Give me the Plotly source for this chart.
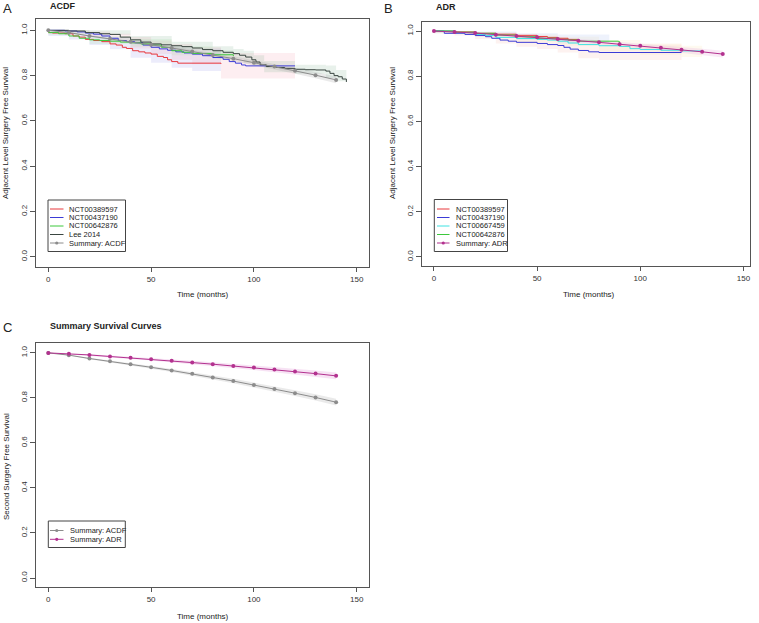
import plotly.graph_objects as go

W, H = 759, 623
FONT = "Liberation Sans, Arial, sans-serif"

# ---------------- Panel A (ACDF) data ----------------
a_red_x = [0, 2, 8, 12, 15, 18, 22, 26, 30, 33, 36, 38, 41, 44, 47, 50, 53, 56, 58, 60, 63, 84]
a_red_y = [0.99, 0.988, 0.985, 0.975, 0.97, 0.96, 0.955, 0.95, 0.94, 0.935, 0.925, 0.92, 0.91,
           0.905, 0.9, 0.895, 0.885, 0.88, 0.87, 0.862, 0.855, 0.852]
a_blue_x = [0, 8, 14, 18, 22, 26, 30, 34, 38, 42, 46, 50, 54, 58, 62, 66, 70, 75, 80, 85, 88,
            91, 94, 96, 120]
a_blue_y = [1.0, 0.997, 0.993, 0.988, 0.983, 0.975, 0.965, 0.955, 0.95, 0.945, 0.935, 0.925,
            0.918, 0.912, 0.905, 0.9, 0.895, 0.888, 0.88, 0.872, 0.862, 0.855, 0.847, 0.843, 0.843]
a_green_x = [0, 5, 10, 15, 20, 25, 30, 35, 40, 45, 50, 55, 60, 65, 70, 80, 90]
a_green_y = [0.99, 0.985, 0.975, 0.965, 0.958, 0.955, 0.952, 0.948, 0.945, 0.94, 0.935, 0.925,
             0.91, 0.903, 0.898, 0.892, 0.886]
a_lee_x = [0, 10, 18, 25, 30, 35, 40, 45, 50, 55, 60, 65, 70, 75, 80, 85, 90, 93, 96, 99, 101,
           103, 106, 110, 115, 120, 125, 130, 135, 137, 139, 141, 143, 145]
a_lee_y = [1.0, 0.997, 0.99, 0.985, 0.982, 0.97, 0.958, 0.948, 0.94, 0.936, 0.932, 0.928, 0.922,
           0.915, 0.91, 0.903, 0.897, 0.89, 0.882, 0.87, 0.86, 0.848, 0.84, 0.836, 0.832, 0.828,
           0.826, 0.825, 0.82, 0.81, 0.8, 0.795, 0.785, 0.772]

summ_x = [0, 10, 20, 30, 40, 50, 60, 70, 80, 90, 100, 110, 120, 130, 140]
acdf_y = [1.0, 0.990, 0.975, 0.963, 0.950, 0.936, 0.922, 0.907, 0.891, 0.875, 0.857, 0.840,
          0.821, 0.802, 0.781]
acdf_lo = [1.0, 0.988, 0.972, 0.959, 0.945, 0.930, 0.915, 0.899, 0.882, 0.865, 0.846, 0.828,
           0.808, 0.788, 0.766]
acdf_hi = [1.0, 0.992, 0.978, 0.967, 0.955, 0.942, 0.929, 0.915, 0.900, 0.885, 0.868, 0.852,
           0.834, 0.816, 0.796]

# confidence bands (panel A)
a_red_band_x = [0, 10, 20, 30, 40, 50, 60, 70, 84]
a_red_band_hi = [1.0, 0.995, 0.985, 0.97, 0.955, 0.94, 0.93, 0.92, 0.905]
a_red_band_lo = [0.975, 0.96, 0.935, 0.916, 0.879, 0.857, 0.835, 0.82, 0.80]
a_blue_band_x = [0, 10, 20, 30, 40, 50, 60, 70, 84, 120]
a_blue_band_hi = [1.0, 1.0, 0.995, 0.985, 0.97, 0.955, 0.94, 0.925, 0.90, 0.90]
a_blue_band_lo = [0.995, 0.985, 0.97, 0.945, 0.92, 0.895, 0.87, 0.85, 0.787, 0.787]
a_green_band_x = [0, 20, 40, 60, 80, 90]
a_green_band_hi = [1.0, 0.975, 0.962, 0.93, 0.912, 0.905]
a_green_band_lo = [0.98, 0.94, 0.928, 0.89, 0.872, 0.866]
a_lee_band_x = [0, 20, 40, 60, 80, 90, 95, 100, 105, 120, 135, 140, 145]
a_lee_band_hi = [1.0, 1.0, 0.975, 0.95, 0.93, 0.918, 0.91, 0.89, 0.865, 0.848, 0.845, 0.825, 0.80]
a_lee_band_lo = [0.995, 0.98, 0.94, 0.915, 0.89, 0.875, 0.855, 0.845, 0.815, 0.808, 0.79, 0.775, 0.755]

# ---------------- Panel B (ADR) data ----------------
b_red_x = [0, 10, 20, 30, 40, 50, 55, 60, 65, 70]
b_red_y = [1.0, 0.996, 0.99, 0.986, 0.981, 0.976, 0.972, 0.968, 0.963, 0.957]
b_blue_x = [0, 5, 15, 20, 25, 28, 32, 36, 40, 50, 55, 60, 63, 66, 70, 75, 80, 120]
b_blue_y = [1.0, 0.99, 0.985, 0.98, 0.975, 0.968, 0.96, 0.955, 0.95, 0.945, 0.94, 0.936, 0.928,
            0.92, 0.914, 0.908, 0.905, 0.905]
b_cyan_x = [0, 10, 20, 25, 30, 40, 50, 55, 60, 65, 70, 80, 90, 95, 100, 110, 120, 130]
b_cyan_y = [1.0, 0.993, 0.985, 0.98, 0.972, 0.967, 0.963, 0.96, 0.955, 0.947, 0.94, 0.935,
            0.932, 0.922, 0.918, 0.915, 0.912, 0.908]
b_green_x = [0, 10, 20, 30, 40, 50, 60, 65, 70, 89.5, 90]
b_green_y = [1.0, 0.995, 0.99, 0.982, 0.975, 0.968, 0.963, 0.96, 0.955, 0.953, 0.946]

adr_y = [1.0, 0.996, 0.991, 0.984, 0.978, 0.972, 0.965, 0.957, 0.950, 0.942, 0.935, 0.926,
         0.917, 0.908, 0.898]
adr_lo = [1.0, 0.994, 0.988, 0.980, 0.973, 0.966, 0.958, 0.949, 0.941, 0.932, 0.924, 0.914,
          0.904, 0.894, 0.883]
adr_hi = [1.0, 0.998, 0.994, 0.988, 0.983, 0.978, 0.972, 0.965, 0.959, 0.952, 0.946, 0.938,
          0.930, 0.922, 0.913]

b_blue_band_x = [0, 10, 20, 30, 40, 50, 60, 70, 80, 120]
b_blue_band_hi = [1.0, 0.998, 0.995, 0.985, 0.975, 0.97, 0.96, 0.945, 0.94, 0.94]
b_blue_band_lo = [0.99, 0.98, 0.965, 0.945, 0.93, 0.92, 0.905, 0.88, 0.872, 0.872]
b_cyan_band_x = [0, 20, 40, 60, 80, 100, 120, 130]
b_cyan_band_hi = [1.0, 0.995, 0.985, 0.975, 0.96, 0.945, 0.935, 0.93]
b_cyan_band_lo = [0.99, 0.975, 0.95, 0.935, 0.91, 0.895, 0.885, 0.88]
b_green_band_x = [0, 20, 40, 60, 85]
b_green_band_hi = [1.0, 0.998, 0.99, 0.985, 0.975]
b_green_band_lo = [0.99, 0.98, 0.96, 0.945, 0.93]

# ---------------- styles ----------------
C_RED = "#E8383D"
C_BLUE = "#3B3BD6"
C_GREEN = "#3CC83C"
C_LEE = "#3A4641"
C_ACDF = "#8C8C8C"
C_ADR = "#B3318F"
C_CYAN = "#3FE2E2"

fig = go.Figure()


def band(xs, lo, hi, color, xa, ya, shape="hv"):
    fig.add_trace(go.Scatter(x=xs, y=lo, mode="lines", line=dict(width=0, shape=shape),
                             hoverinfo="skip", showlegend=False, xaxis=xa, yaxis=ya))
    fig.add_trace(go.Scatter(x=xs, y=hi, mode="lines", line=dict(width=0, shape=shape),
                             fill="tonexty", fillcolor=color, hoverinfo="skip",
                             showlegend=False, xaxis=xa, yaxis=ya))


def curve(xs, ys, color, name, xa, ya, shape="hv", markers=False):
    fig.add_trace(go.Scatter(x=xs, y=ys, name=name,
                             mode="lines+markers" if markers else "lines",
                             line=dict(color=color, width=1, shape=shape),
                             marker=dict(color=color, size=4),
                             showlegend=False, xaxis=xa, yaxis=ya))


# Panel A
band(a_red_band_x, a_red_band_lo, a_red_band_hi, "rgba(160,160,235,0.20)", "x", "y")
band(a_blue_band_x, a_blue_band_lo, a_blue_band_hi, "rgba(245,170,185,0.20)", "x", "y")
band(a_green_band_x, a_green_band_lo, a_green_band_hi, "rgba(150,220,150,0.15)", "x", "y")
band(a_lee_band_x, a_lee_band_lo, a_lee_band_hi, "rgba(140,185,155,0.20)", "x", "y")
band(summ_x, acdf_lo, acdf_hi, "rgba(150,150,150,0.20)", "x", "y", shape="linear")
curve(a_red_x, a_red_y, C_RED, "NCT00389597", "x", "y")
curve(a_blue_x, a_blue_y, C_BLUE, "NCT00437190", "x", "y")
curve(a_green_x, a_green_y, C_GREEN, "NCT00642876", "x", "y")
curve(a_lee_x, a_lee_y, C_LEE, "Lee 2014", "x", "y")
curve(summ_x, acdf_y, C_ACDF, "Summary: ACDF", "x", "y", shape="linear", markers=True)

# Panel B
band(b_blue_band_x, b_blue_band_lo, b_blue_band_hi, "rgba(245,185,170,0.18)", "x2", "y2")
band(b_cyan_band_x, b_cyan_band_lo, b_cyan_band_hi, "rgba(250,225,170,0.18)", "x2", "y2")
band(b_green_band_x, b_green_band_lo, b_green_band_hi, "rgba(170,190,240,0.20)", "x2", "y2")
band(summ_x, adr_lo, adr_hi, "rgba(230,170,220,0.25)", "x2", "y2", shape="linear")
curve(b_red_x, b_red_y, C_RED, "NCT00389597", "x2", "y2")
curve(b_blue_x, b_blue_y, C_BLUE, "NCT00437190", "x2", "y2")
curve(b_cyan_x, b_cyan_y, C_CYAN, "NCT00667459", "x2", "y2")
curve(b_green_x, b_green_y, C_GREEN, "NCT00642876", "x2", "y2")
curve(summ_x, adr_y, C_ADR, "Summary: ADR", "x2", "y2", shape="linear", markers=True)

# Panel C
band(summ_x, acdf_lo, acdf_hi, "rgba(150,150,150,0.20)", "x3", "y3", shape="linear")
band(summ_x, adr_lo, adr_hi, "rgba(230,160,220,0.30)", "x3", "y3", shape="linear")
curve(summ_x, acdf_y, C_ACDF, "Summary: ACDF", "x3", "y3", shape="linear", markers=True)
curve(summ_x, adr_y, C_ADR, "Summary: ADR", "x3", "y3", shape="linear", markers=True)


def px(x):
    return x / W


def py(y):
    return 1 - y / H


def xaxis_cfg(dom, rng, anchor):
    return dict(domain=dom, range=rng, anchor=anchor, tickvals=[0, 50, 100, 150],
                showline=True, mirror=True, linecolor="#555555", linewidth=1,
                ticks="outside", ticklen=4, tickcolor="#555555", showgrid=False,
                zeroline=False, tickfont=dict(size=8, color="#333333", family=FONT))


def yaxis_cfg(dom, rng, anchor):
    return dict(domain=dom, range=rng, anchor=anchor, tickvals=[0, 0.2, 0.4, 0.6, 0.8, 1.0],
                ticktext=["0.0", "0.2", "0.4", "0.6", "0.8", "1.0"], tickangle=-90,
                showline=True, mirror=True, linecolor="#555555", linewidth=1,
                ticks="outside", ticklen=5, tickcolor="#555555", showgrid=False,
                zeroline=False, tickfont=dict(size=8, color="#333333", family=FONT))


fig.update_layout(
    width=W, height=H, autosize=False,
    margin=dict(l=0, r=0, t=0, b=0),
    paper_bgcolor="white", plot_bgcolor="white",
    font=dict(family=FONT, color="#222222"),
    showlegend=False,
    xaxis=xaxis_cfg([px(36), px(369)], [-6, 156], "y"),
    yaxis=yaxis_cfg([py(267), py(19)], [-0.045, 1.05], "x"),
    xaxis2=xaxis_cfg([px(422), px(750)], [-5.8, 153.2], "y2"),
    yaxis2=yaxis_cfg([py(266), py(22)], [-0.04, 1.04], "x2"),
    xaxis3=xaxis_cfg([px(36), px(369)], [-6, 156], "y3"),
    yaxis3=yaxis_cfg([py(587), py(343)], [-0.04, 1.044], "x3"),
)

ann = []


def text(x, y, s, size=8, bold=False, xanchor="center", angle=0):
    ann.append(dict(x=px(x), y=py(y), xref="paper", yref="paper", text=f"<b>{s}</b>" if bold else s,
                    showarrow=False, xanchor=xanchor, yanchor="middle", textangle=angle,
                    font=dict(size=size, family=FONT, color="#222222")))


# panel letters & titles
text(1, 8, "A", size=13, xanchor="left")
text(48, 6, "ACDF", size=9, bold=True, xanchor="left")
text(382, 8, "B", size=13, xanchor="left")
text(434, 7, "ADR", size=9, bold=True, xanchor="left")
text(1, 327, "C", size=13, xanchor="left")
text(48, 326, "Summary Survival Curves", size=9, bold=True, xanchor="left")
# axis titles
text(203, 295, "Time (months)", size=8)
text(589, 295, "Time (months)", size=8)
text(203, 616, "Time (months)", size=8)
text(6, 133, "Adjacent Level Surgery Free Survival", size=8, angle=-90)
text(393, 133, "Adjacent Level Surgery Free Survival", size=8, angle=-90)
text(6, 467, "Second Surgery Free Survival", size=8, angle=-90)

shapes = []


def legend(box, x0, x1, tx, rows):
    bx0, by0, bx1, by1 = box
    shapes.append(dict(type="rect", xref="paper", yref="paper", x0=px(bx0), x1=px(bx1),
                       y0=py(by1), y1=py(by0), line=dict(color="#444444", width=1),
                       fillcolor="white", layer="above"))
    for yy, name, col, mk in rows:
        shapes.append(dict(type="line", xref="paper", yref="paper", x0=px(x0), x1=px(x1),
                           y0=py(yy), y1=py(yy), line=dict(color=col, width=1), layer="above"))
        if mk:
            cx = (x0 + x1) / 2
            shapes.append(dict(type="circle", xref="paper", yref="paper", x0=px(cx - 1.6),
                               x1=px(cx + 1.6), y0=py(yy + 1.6), y1=py(yy - 1.6),
                               fillcolor=col, line=dict(color=col, width=0), layer="above"))
        text(tx, yy, name, size=7.5, xanchor="left")


legend((48, 200, 125.5, 251.5), 50, 63.5, 67,
       [(209, "NCT00389597", C_RED, False), (217.5, "NCT00437190", C_BLUE, False),
        (226, "NCT00642876", C_GREEN, False), (234.5, "Lee 2014", C_LEE, False),
        (243, "Summary: ACDF", C_ACDF, True)])
legend((434.3, 199.5, 507.5, 251.5), 437, 449.5, 453.5,
       [(209, "NCT00389597", C_RED, False), (217.5, "NCT00437190", C_BLUE, False),
        (226, "NCT00667459", C_CYAN, False), (234.5, "NCT00642876", C_GREEN, False),
        (243, "Summary: ADR", C_ADR, True)])
legend((48.3, 521, 125.3, 547.5), 50, 63.5, 68,
       [(530.5, "Summary: ACDF", C_ACDF, True), (539.3, "Summary: ADR", C_ADR, True)])

fig.update_layout(annotations=ann, shapes=shapes)
fig.write_html("out.html", config={"displayModeBar": False},
               post_script="document.body.style.margin='0';document.body.style.overflow='hidden';")
